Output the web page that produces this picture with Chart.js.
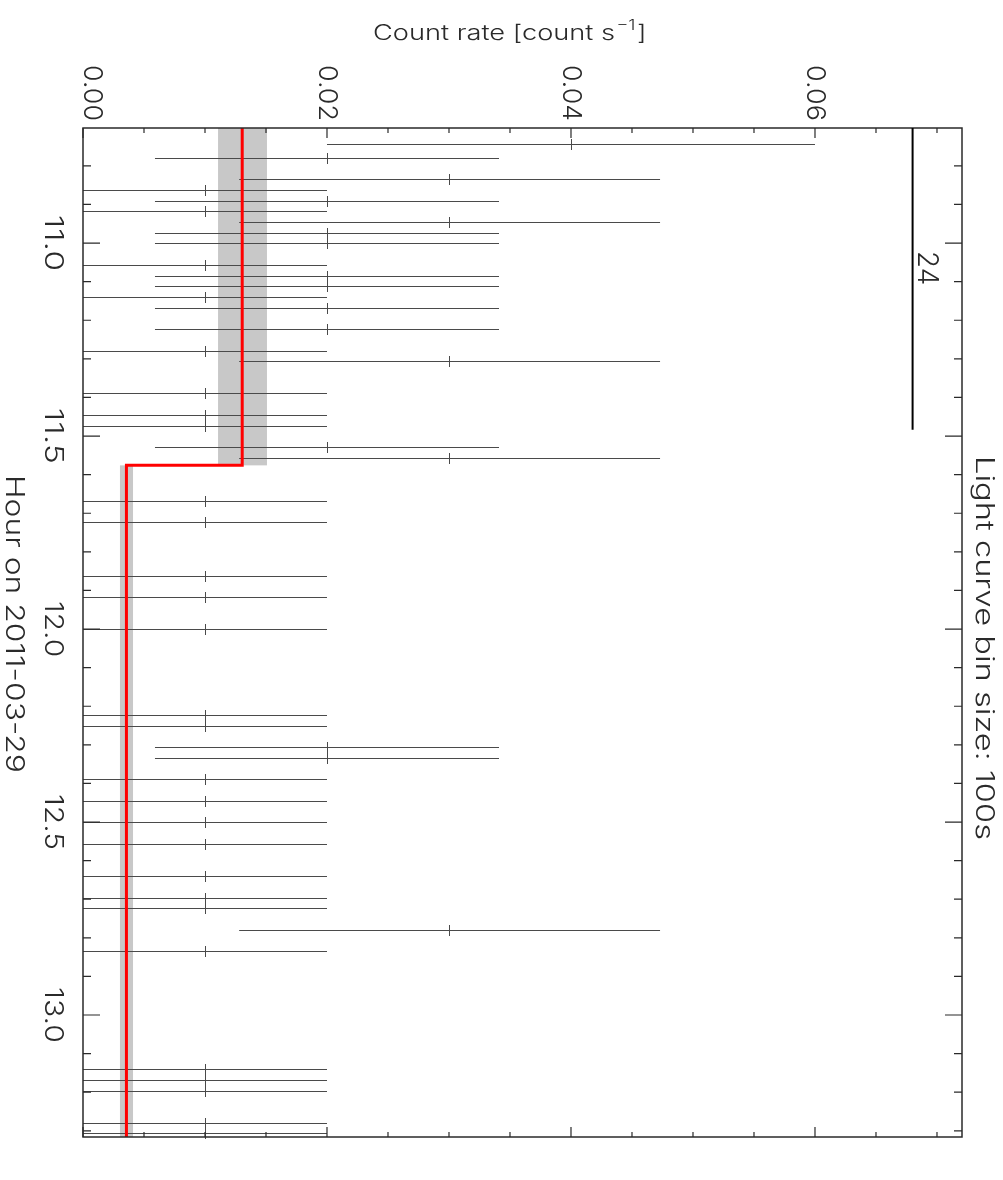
<!DOCTYPE html>
<html>
<head>
<meta charset="utf-8">
<script src="https://cdn.jsdelivr.net/npm/chart.js@4/dist/chart.umd.min.js"></script>
<style>
  body { margin: 0; background: #fff; }
  #wrap { width: 1003px; height: 1180px; }
</style>
</head>
<body>
<div id="wrap"><canvas id="lc"></canvas></div>
<script>
// light curve bins (hour on 2011-03-29) and count rates
const binHours = [10.744, 10.779, 10.835, 10.863, 10.890, 10.918, 10.946, 10.974, 11.001, 11.057,
    11.085, 11.111, 11.141, 11.168, 11.224, 11.279, 11.306, 11.389, 11.446, 11.473,
    11.528, 11.556, 11.668, 11.724, 11.863, 11.918, 12.001, 12.224, 12.252, 12.306,
    12.334, 12.389, 12.446, 12.501, 12.558, 12.641, 12.696, 12.724, 12.779, 12.835,
    13.140, 13.168, 13.196, 13.280, 13.306];
const binRates = [0.04, 0.02, 0.03, 0.01, 0.02, 0.01, 0.03, 0.02, 0.02, 0.01,
    0.02, 0.02, 0.01, 0.02, 0.02, 0.01, 0.03, 0.01, 0.01, 0.01,
    0.02, 0.03, 0.01, 0.01, 0.01, 0.01, 0.01, 0.01, 0.01, 0.02,
    0.02, 0.01, 0.01, 0.01, 0.01, 0.01, 0.01, 0.01, 0.03, 0.01,
    0.01, 0.01, 0.01, 0.01, 0.01];

// error bar ends for each count level
const rateLevels = [0.01, 0.02, 0.03, 0.04];
const errLow = [0.0, 0.0059, 0.0128, 0.0200];
const errHigh = [0.0200, 0.0341, 0.0473, 0.0600];

// bayesian blocks
const blockStart = [10.702, 11.576];
const blockEnd = [11.576, 13.316];
const blockRate = [0.01305, 0.00356];
const blockLow = [0.01107, 0.00303];
const blockHigh = [0.01508, 0.00410];

// marker line with label
const markRate = 0.068;
const markEnd = 11.484;
const markLabel = '24';

const rateTicks = [0.00, 0.02, 0.04, 0.06];
const rateTickLabels = ['0.00', '0.02', '0.04', '0.06'];
const hourTicks = [11.0, 11.5, 12.0, 12.5, 13.0];
const hourTickLabels = ['11.0', '11.5', '12.0', '12.5', '13.0'];

const FONT = 'Inter, "Liberation Sans", "DejaVu Sans", sans-serif';
const INK = '#2a2a2a';

function fitText(ctx, str, x, y, size, width, rot) {
    ctx.save();
    ctx.translate(x, y);
    ctx.rotate(rot);
    ctx.font = '300 ' + size + 'px ' + FONT;
    const w = ctx.measureText(str).width;
    if (width) ctx.scale(width / w, 1);
    ctx.textAlign = 'center';
    ctx.textBaseline = 'middle';
    ctx.fillStyle = INK;
    ctx.fillText(str, 0, 0);
    ctx.restore();
}

const blockPoints = [];
blockRate.forEach((r, i) => {
    blockPoints.push({ x: r, y: blockStart[i] });
    blockPoints.push({ x: r, y: blockEnd[i] });
});

const underlay = {
    id: 'underlay',
    beforeDatasetsDraw(chart) {
        const { ctx, scales: { x, y } } = chart;
        ctx.save();
        // block uncertainty bands
        ctx.fillStyle = '#c8c8c8';
        blockStart.forEach((s, i) => {
            const x0 = x.getPixelForValue(blockLow[i]), x1 = x.getPixelForValue(blockHigh[i]);
            const y0 = y.getPixelForValue(s), y1 = y.getPixelForValue(blockEnd[i]);
            ctx.fillRect(x0, y0, x1 - x0, y1 - y0);
        });
        // error bars
        ctx.strokeStyle = '#4a4a4a';
        ctx.lineWidth = 1;
        binHours.forEach((h, i) => {
            const k = rateLevels.indexOf(binRates[i]);
            const py = Math.round(y.getPixelForValue(h)) + 0.5;
            const xl = x.getPixelForValue(errLow[k]), xh = x.getPixelForValue(errHigh[k]);
            const xc = Math.round(x.getPixelForValue(binRates[i])) + 0.5;
            ctx.beginPath();
            ctx.moveTo(xl, py); ctx.lineTo(xh, py);
            ctx.moveTo(xc, py - 5.5); ctx.lineTo(xc, py + 5.5);
            ctx.stroke();
        });
        ctx.restore();
    },
    afterDatasetsDraw(chart) {
        const { ctx, chartArea: a, scales: { x, y } } = chart;
        ctx.save();
        ctx.strokeStyle = INK;
        ctx.lineWidth = 1.5;
        ctx.strokeRect(a.left, a.top, a.right - a.left, a.bottom - a.top);
        ctx.lineWidth = 1.2;
        ctx.beginPath();
        // rate axis ticks (top and bottom)
        for (let v = 0; v <= x.max + 1e-9; v += 0.005) {
            const px = x.getPixelForValue(v);
            const major = Math.abs(v / 0.02 - Math.round(v / 0.02)) < 1e-6;
            const len = major ? 10 : 5;
            ctx.moveTo(px, a.top); ctx.lineTo(px, a.top + len);
            ctx.moveTo(px, a.bottom); ctx.lineTo(px, a.bottom - len);
        }
        // hour axis ticks (left and right)
        for (let v = 10.8; v <= y.max + 1e-9; v += 0.1) {
            const py = y.getPixelForValue(v);
            const major = Math.abs(v * 2 - Math.round(v * 2)) < 1e-6;
            const len = major ? 17 : 8;
            ctx.moveTo(a.left, py); ctx.lineTo(a.left + len, py);
            ctx.moveTo(a.right, py); ctx.lineTo(a.right - len, py);
        }
        ctx.stroke();
        // marker line
        ctx.strokeStyle = '#000';
        ctx.lineWidth = 2;
        const mx = x.getPixelForValue(markRate);
        ctx.beginPath();
        ctx.moveTo(mx, a.top); ctx.lineTo(mx, y.getPixelForValue(markEnd));
        ctx.stroke();
        ctx.restore();

        const rot = Math.PI / 2;
        fitText(ctx, markLabel, mx + 14, y.getPixelForValue(11.065), 28, 34, rot);
        rateTicks.forEach((v, i) => {
            const px = x.getPixelForValue(v) + (i === 0 ? 9 : 0);
            fitText(ctx, rateTickLabels[i], px, 93, 26, 56, rot);
        });
        hourTicks.forEach((v, i) => fitText(ctx, hourTickLabels[i], 53, y.getPixelForValue(v), 26, 56, rot));
        fitText(ctx, 'Hour on 2011-03-29', 14, 624, 25, 298, rot);
        fitText(ctx, 'Light curve bin size: 100s', 984, 648, 25, 384, rot);
        // horizontal title with superscript
        ctx.save();
        ctx.fillStyle = INK;
        ctx.textBaseline = 'alphabetic';
        ctx.font = '300 21px ' + FONT;
        const t1 = 'Count rate [count s';
        const w1 = ctx.measureText(t1).width;
        const sx = 268 / (w1 + 20);
        ctx.translate(373, 40);
        ctx.scale(sx, 1);
        ctx.fillText(t1, 0, 0);
        ctx.font = '300 14px ' + FONT;
        ctx.fillText('\u22121', w1 + 1, -10);
        ctx.font = '300 21px ' + FONT;
        ctx.fillText(']', w1 + 17, 0);
        ctx.restore();
    }
};

new Chart(document.getElementById('lc'), {
    type: 'scatter',
    data: {
        datasets: [{
            data: blockPoints,
            showLine: true,
            borderColor: '#ff0000',
            borderWidth: 3,
            pointRadius: 0,
            fill: false
        }]
    },
    options: {
        responsive: true,
        maintainAspectRatio: false,
        animation: false,
        layout: { padding: { left: 83, top: 128, right: 41, bottom: 43 } },
        plugins: { legend: { display: false }, tooltip: { enabled: false } },
        scales: {
            x: { type: 'linear', display: false, min: 0, max: 0.07205 },
            y: { type: 'linear', display: false, min: 10.702, max: 13.316, reverse: true }
        }
    },
    plugins: [underlay]
});
</script>
</body>
</html>
